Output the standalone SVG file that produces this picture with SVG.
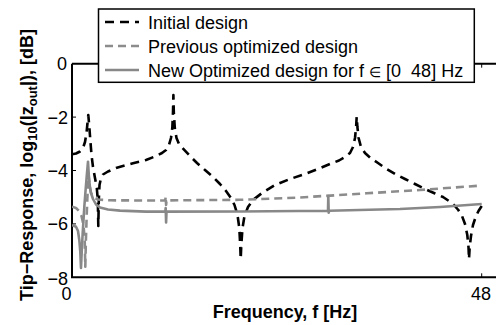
<svg xmlns="http://www.w3.org/2000/svg" width="496" height="325" viewBox="0 0 496 325">
  <style>
    .tick { font-family: "Liberation Sans", Arial, sans-serif; font-size: 18px; fill: #000; }
    .lab { font-family: "Liberation Sans", Arial, sans-serif; font-size: 18px; font-weight: bold; fill: #000; }
    .leg { font-family: "Liberation Sans", Arial, sans-serif; font-size: 18px; fill: #000; }
    .ax { stroke: #000; stroke-width: 2; fill: none; }
    .tk { stroke: #000; stroke-width: 1; fill: none; }
    .c1 { stroke: #000; stroke-width: 2.6; fill: none; stroke-dasharray: 9 6; stroke-linejoin: round; }
    .c2 { stroke: #8c8c8c; stroke-width: 2.6; fill: none; stroke-dasharray: 8 5; stroke-linejoin: round; }
    .c3 { stroke: #888; stroke-width: 2.6; fill: none; stroke-linejoin: round; }
  </style>
  <defs>
    <clipPath id="axclip"><rect x="72" y="63.7" width="424" height="213.6"/></clipPath>
  </defs>
  <rect width="496" height="325" fill="#fff"/>

  <g id="axes">
    <path class="ax" d="M72,63.7 L496,63.7 M72,63.7 L72,277.3 L496,277.3"/>
    <path class="tk" d="M72,117.1 h4 M72,170.5 h4 M72,223.9 h4 M481.7,277.3 v-4 M481.7,63.7 v4"/>
    <text class="tick" x="67" y="70.2" text-anchor="end">0</text>
    <text class="tick" x="68" y="123.6" text-anchor="end">−2</text>
    <text class="tick" x="68" y="177" text-anchor="end">−4</text>
    <text class="tick" x="68" y="230.4" text-anchor="end">−6</text>
    <text class="tick" x="68" y="284.5" text-anchor="end">−8</text>
    <text class="tick" x="66.5" y="300" text-anchor="middle">0</text>
    <text class="tick" x="481" y="300" text-anchor="middle">48</text>
    <text class="lab" x="285" y="317.5" text-anchor="middle">Frequency, f [Hz]</text>
    <text class="lab" transform="translate(33,165) rotate(-90)" text-anchor="middle">Tip−Response, log<tspan font-size="13" dy="4">10</tspan><tspan dy="-4">(|z</tspan><tspan font-size="13" dy="4">out</tspan><tspan dy="-4">|), [dB]</tspan></text>
  </g>

  <g id="curves" clip-path="url(#axclip)">
    <path id="initial" class="c1" d="M72,154.3 L76,153.5 L80,151.5 L83,148 L85,142 L86.5,133 L87.5,123 L88.3,115 L89.2,125 L90.3,140 L91.5,155 L93,167 L95,178 L96.8,188 L97.8,200 L98.3,226 L98.8,200 L99.5,185 L101,178 L103,174.5 L108,171.5 L116,168 L125,165.5 L133,163.3 L146,160 L155,156.5 L162,153 L166,150 L169,145 L171,138 L172.3,128 L173,112 L173.4,95 L173.8,112 L174.8,128 L176.5,138 L179,144 L182,147.5 L190,156 L197,163 L205,170 L213,177 L220,184 L226,191 L231,198 L234.5,205 L237.5,215 L239.3,228 L240.2,245 L240.7,259 L241.3,245 L242.5,228 L244.5,216 L248,207 L253,200 L262,193 L275,185 L290,179 L305,174 L318,169 L330,164 L339,160.5 L345,157 L350,153 L353,147 L355,138 L356.1,127 L356.7,116.7 L357.4,127 L358.6,138 L361,147 L365,153 L370,157.5 L378,163 L385,168 L395,174 L405,179 L415,184 L425,189 L435,193.5 L443,197 L449,201 L454,205 L458.3,210 L462,216 L465,224 L467.3,235 L468.5,247 L469,259 L469.7,247 L471,236 L473,225 L476,216 L478.5,211 L481.7,206"/>
    <path id="previous" class="c2" d="M72,206.7 L76,208 L79,211 L81.5,216 L83.5,225 L84.7,240 L85.3,266.7 L85.9,240 L86.7,215 L87.5,195 L88.5,175 L89.5,185 L91,193 L94,197.5 L98,199.5 L110,200.3 L146,200.5 L165.3,200.4 L165.7,196.5 L166.1,205 L166.5,200.4 L240,199.8 L300,197.5 L366.7,193.3 L420,190 L481.7,185.5"/>
    <path id="new" class="c3" d="M72,225 L76,226.7 L78,231 L79.3,240 L80.3,252 L81,268 L81.8,250 L82.7,233 L84.3,207 L85.6,190 L86.7,176.7 L88,161.7 L88.8,175 L89.8,186 L91,193 L93,199 L96,204.5 L100,207.5 L108,209.5 L120,210.6 L146,211.6 L165.3,211.6 L165.7,208 L166.1,222.5 L166.5,211.6 L240,211.5 L328,210.8 L328.3,196 L328.7,212.7 L329.1,210.8 L400,209 L440,207 L481.7,204"/>
  </g>

  <g id="legend">
    <rect x="98.5" y="9" width="375.8" height="73.3" fill="#fff" stroke="#000" stroke-width="1.5"/>
    <line x1="105" y1="22" x2="139" y2="22" class="c1" stroke-dasharray="7 6"/>
    <text class="leg" x="148" y="28.5">Initial design</text>
    <line x1="105" y1="46" x2="139" y2="46" class="c2" stroke-dasharray="7 6"/>
    <text class="leg" x="148" y="52.5">Previous optimized design</text>
    <line x1="105" y1="70" x2="139" y2="70" class="c3"/>
    <text class="leg" x="148" y="76.5" xml:space="preserve">New Optimized design for f <tspan font-size="14">∈</tspan> [0  48] Hz</text>
  </g>
</svg>
